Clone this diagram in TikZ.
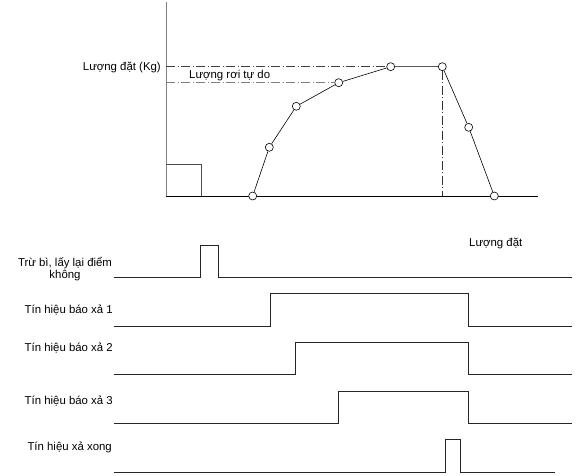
\documentclass[tikz,border=0pt]{standalone}
\usepackage{fontspec}
\setmainfont{Liberation Sans}
\begin{document}
\begin{tikzpicture}[x=1pt,y=-1pt,
  lbl/.style={font=\fontsize{11.4}{12}\selectfont, inner sep=0pt},
  pt/.style={circle, draw=black, fill=white, minimum size=8pt, inner sep=0pt, line width=0.6pt},
  sig/.style={line width=0.8pt, black!85},
  ax/.style={line width=0.9pt},
  dashdot/.style={line width=0.8pt, dash pattern=on 9pt off 2.5pt on 1pt off 2.5pt},
  curve/.style={line width=0.6pt}]
\useasboundingbox (0,0) rectangle (576,476);
% axes
\coordinate (O) at (166,196);
\coordinate (Ytop) at (166,2);
\coordinate (Xend) at (538,196);
\draw[ax, gray] (O) -- (Ytop);
\draw[ax] (O) -- (Xend);
% small square
\draw[ax, black!70] (166,164) -- (201,164) -- (201,196);
% points
\node[pt] (p1) at (252.7,196) {};
\node[pt] (p2) at (269.3,147.3) {};
\node[pt] (p3) at (296.3,106.3) {};
\node[pt] (p4) at (338.7,82.7) {};
\node[pt] (p5) at (390.7,66.7) {};
\node[pt] (p6) at (442.3,66.7) {};
\node[pt] (p7) at (468.7,127.3) {};
\node[pt] (p8) at (494.3,196) {};
\coordinate (ySet) at (166,66.7);
\coordinate (yFree) at (166,82.7);
\coordinate (p6b) at (442.3,196);
\draw[dashdot, black!75] (ySet) -- (p5.west);
\draw[dashdot, gray] (yFree) -- (p4.west);
\draw[dashdot, black!80] (p6.south) -- (p6b);
\draw[curve] (p1) -- (p2) -- (p3) -- (p4) -- (p5) -- (p6) -- (p7) -- (p8);
\node[lbl, anchor=mid east] (lset) at (161,67.5) {Lượng đặt (Kg)};
\node[lbl, anchor=mid west] (lfree) at (189,75.5) {Lượng rơi tự do};
% timing labels
\node[lbl, align=center] (l0) at (65,269.5) {Trừ bì, lấy lại điểm\\không};
\node[lbl, anchor=mid west] (lset2) at (469,243.5) {Lượng đặt};
\node[lbl, anchor=mid east] (l1) at (113,310.5) {Tín hiệu báo xả 1};
\node[lbl, anchor=mid east] (l2) at (113,348.5) {Tín hiệu báo xả 2};
\node[lbl, anchor=mid east] (l3) at (113,402) {Tín hiệu báo xả 3};
\node[lbl, anchor=mid east] (l4) at (112,448) {Tín hiệu xả xong};
% signals
\draw[sig] (114.3,277.7) -- (200,277.7) -- (200,245) -- (218.3,245) -- (218.3,277.7) -- (571.7,277.7);
\draw[sig] (114.3,326.7) -- (270,326.7) -- (270,293.3) -- (468.7,293.3) -- (468.7,326.7) -- (571.7,326.7);
\draw[sig] (114.3,374) -- (295.7,374) -- (295.7,342.7) -- (468.7,342.7) -- (468.7,374) -- (571.7,374);
\draw[sig] (114.3,423.3) -- (338.7,423.3) -- (338.7,391) -- (468.7,391) -- (468.7,423.3) -- (571.7,423.3);
\draw[sig] (114.3,472) -- (445,472) -- (445,439.3) -- (460,439.3) -- (460,472) -- (555.3,472);
\end{tikzpicture}
\end{document}
